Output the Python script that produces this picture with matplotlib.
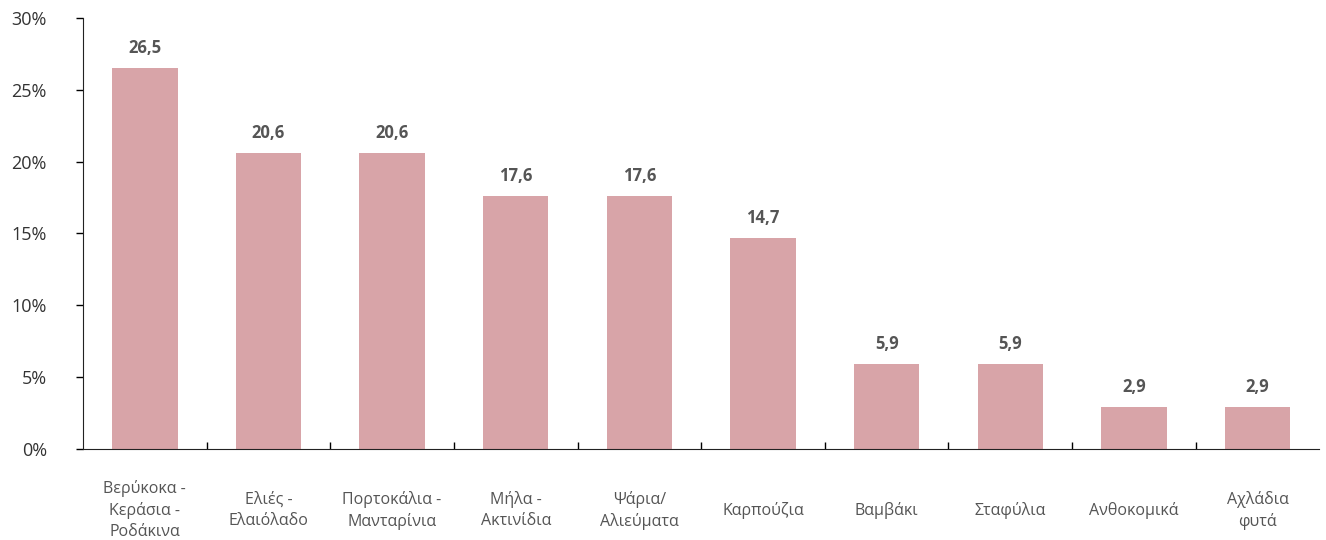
import numpy as np
import matplotlib.pyplot as plt
from matplotlib.ticker import FixedLocator, PercentFormatter

plt.rcParams['font.family'] = ['Open Sans', 'DejaVu Sans']

categories = ['Βερύκοκα -\nΚεράσια -\nΡοδάκινα', 'Ελιές -\nΕλαιόλαδο', 'Πορτοκάλια -\nΜανταρίνια',
              'Μήλα -\nΑκτινίδια', 'Ψάρια/\nΑλιεύματα', 'Καρπούζια', 'Βαμβάκι',
              'Σταφύλια', 'Ανθοκομικά', 'Αχλάδια\nφυτά']
values = [26.5, 20.6, 20.6, 17.6, 17.6, 14.7, 5.9, 5.9, 2.9, 2.9]
yticks = [0, 5, 10, 15, 20, 25, 30]

fig = plt.figure(figsize=(13.26, 5.4), dpi=100)
ax = fig.add_axes([0.0626, 0.1685, 0.9324, 0.7982])

x = np.arange(len(values))
bars = ax.bar(x, values, width=0.53, color='#d8a4a8')

for xi, v in zip(x, values):
    ax.annotate(f'{v:.1f}'.replace('.', ','), (xi, v), xytext=(0, 8), textcoords='offset points',
                ha='center', va='bottom', fontsize=12, fontweight='bold', color='#555555')

ax.set_xlim(-0.5, len(values) - 0.5)
ax.set_ylim(0, 30)
ax.set_yticks(yticks)
ax.yaxis.set_major_formatter(PercentFormatter(decimals=0))
ax.tick_params(axis='y', length=5, width=1, pad=21, labelsize=13, labelcolor='#333333')

ax.set_xticks(x)
ax.set_xticklabels(categories, fontsize=11.5, color='#555555', linespacing=1.4)
for lab in ax.get_xticklabels():
    lab.set_verticalalignment('center')
ax.tick_params(axis='x', which='major', length=0, pad=44)
ax.xaxis.set_minor_locator(FixedLocator(np.arange(0.5, len(values) - 0.5, 1)))
ax.tick_params(axis='x', which='minor', length=5, width=1, direction='in')

for s in ['top', 'right']:
    ax.spines[s].set_visible(False)
ax.spines['left'].set_color('#222222')
ax.spines['bottom'].set_color('#222222')

fig.savefig('out.png', dpi=100)
